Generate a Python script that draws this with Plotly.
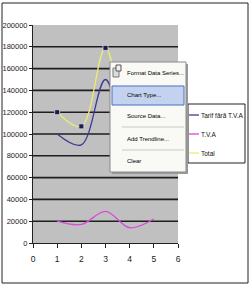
import plotly.graph_objects as go

# ---- data ----
x_vals = [1, 2, 3, 4, 5]
series_names = ["Tarif fără T.V.A", "T.V.A", "Total"]
tarif = [100000, 90000, 150000, 92000, 100000]
tva = [20000, 17000, 29000, 14000, 22000]
total = [120000, 107000, 179000, 106000, 122000]
y_ticks = [0, 20000, 40000, 60000, 80000, 100000, 120000, 140000, 160000, 180000, 200000]
x_ticks = [0, 1, 2, 3, 4, 5, 6]
menu_items = ["Format Data Series...", "Chart Type...", "Source Data...", "Add Trendline...", "Clear"]

colors = ["#3c3c96", "#d84ad8", "#ecec70"]
FONT = "Liberation Sans, Arial, sans-serif"

W, H = 249, 285
L, R, T, B = 33, 178, 25, 243


def px(x):
    return (x - L) / (R - L)


def py(y):
    return (B - y) / (B - T)


fig = go.Figure()
for name, vals, col in zip(series_names, [tarif, tva, total], colors):
    fig.add_trace(go.Scatter(
        x=x_vals, y=vals, name=name, mode="lines",
        line=dict(color=col, width=1.3, shape="spline", smoothing=1.0),
        showlegend=False, hoverinfo="skip"))

# selection handles on the Total series
fig.add_trace(go.Scatter(
    x=x_vals, y=total, mode="markers", showlegend=False, hoverinfo="skip",
    marker=dict(symbol="square", size=5, color="#1c1c4c",
                line=dict(color="#d8d8e0", width=0.8))))

shapes = []
annotations = []

# horizontal gridlines (no line at the top edge)
for gv in y_ticks[1:-1]:
    shapes.append(dict(type="line", xref="paper", yref="y", x0=0, x1=1, y0=gv, y1=gv,
                       line=dict(color="#1e1e1e", width=1.6), layer="below"))

# outer chart border
shapes.append(dict(type="rect", xref="paper", yref="paper",
                   x0=px(2), x1=px(248), y0=py(3), y1=py(283),
                   line=dict(color="#222", width=1), layer="below"))

# legend (manual)
shapes.append(dict(type="rect", xref="paper", yref="paper",
                   x0=px(188), x1=px(245), y0=py(104), y1=py(163),
                   line=dict(color="#222", width=1), fillcolor="white", layer="above"))
leg_y = [115, 134, 153]
for name, col, yy in zip(series_names, colors, leg_y):
    shapes.append(dict(type="line", xref="paper", yref="paper",
                       x0=px(189), x1=px(199), y0=py(yy), y1=py(yy),
                       line=dict(color=col, width=1.3), layer="above"))
    annotations.append(dict(xref="paper", yref="paper", x=px(199), y=py(yy),
                            text=name, showarrow=False, xanchor="left", yanchor="middle",
                            font=dict(family=FONT, size=6.5, color="#111")))

# context menu
shapes.append(dict(type="rect", xref="paper", yref="paper",
                   x0=px(112), x1=px(188), y0=py(64), y1=py(174),
                   line=dict(width=0), fillcolor="#9a9a9a", layer="above"))
shapes.append(dict(type="rect", xref="paper", yref="paper",
                   x0=px(110), x1=px(186), y0=py(62), y1=py(172),
                   line=dict(color="#8a8a8a", width=1), fillcolor="#f9f9f5", layer="above"))
# highlight
shapes.append(dict(type="rect", xref="paper", yref="paper",
                   x0=px(112), x1=px(184), y0=py(86), y1=py(105),
                   line=dict(color="#4a6fc0", width=1), fillcolor="#c3d3ef", layer="above"))
# separators
for sy in [127, 150]:
    shapes.append(dict(type="line", xref="paper", yref="paper",
                       x0=px(122), x1=px(184), y0=py(sy), y1=py(sy),
                       line=dict(color="#c8c8c8", width=1), layer="above"))
# icon
shapes.append(dict(type="rect", xref="paper", yref="paper",
                   x0=px(113), x1=px(119), y0=py(68), y1=py(77),
                   line=dict(color="#777", width=1), fillcolor="#dcdcdc", layer="above"))
shapes.append(dict(type="rect", xref="paper", yref="paper",
                   x0=px(116), x1=px(121), y0=py(65), y1=py(71),
                   line=dict(color="#555", width=1), fillcolor="#f0f0f0", layer="above"))
menu_y = [73, 95, 116, 139, 161]
for txt, yy in zip(menu_items, menu_y):
    annotations.append(dict(xref="paper", yref="paper", x=px(125), y=py(yy),
                            text=txt, showarrow=False, xanchor="left", yanchor="middle",
                            font=dict(family=FONT, size=6, color="#000")))

fig.update_layout(
    width=W, height=H,
    margin=dict(l=L, r=W - R, t=T, b=H - B, pad=0),
    paper_bgcolor="white", plot_bgcolor="#c0c0c0",
    font=dict(family=FONT, size=8, color="#222"),
    shapes=shapes, annotations=annotations,
    showlegend=False,
)
fig.update_xaxes(range=[0, 6], tickvals=x_ticks, ticktext=[str(v) for v in x_ticks],
                 showgrid=False, zeroline=False, showline=True, linecolor="#222", linewidth=1,
                 ticks="outside", ticklen=4, tickcolor="#222", tickfont=dict(size=8.5),
                 ticklabelstandoff=4, automargin=False)
fig.update_yaxes(range=[0, 200000], tickvals=y_ticks, ticktext=[str(v) for v in y_ticks],
                 showgrid=False, zeroline=False,
                 showline=True, linecolor="#222", linewidth=1,
                 ticks="outside", ticklen=3, tickcolor="#222", tickfont=dict(size=7.5),
                 automargin=False)

fig.write_html("out.html")
